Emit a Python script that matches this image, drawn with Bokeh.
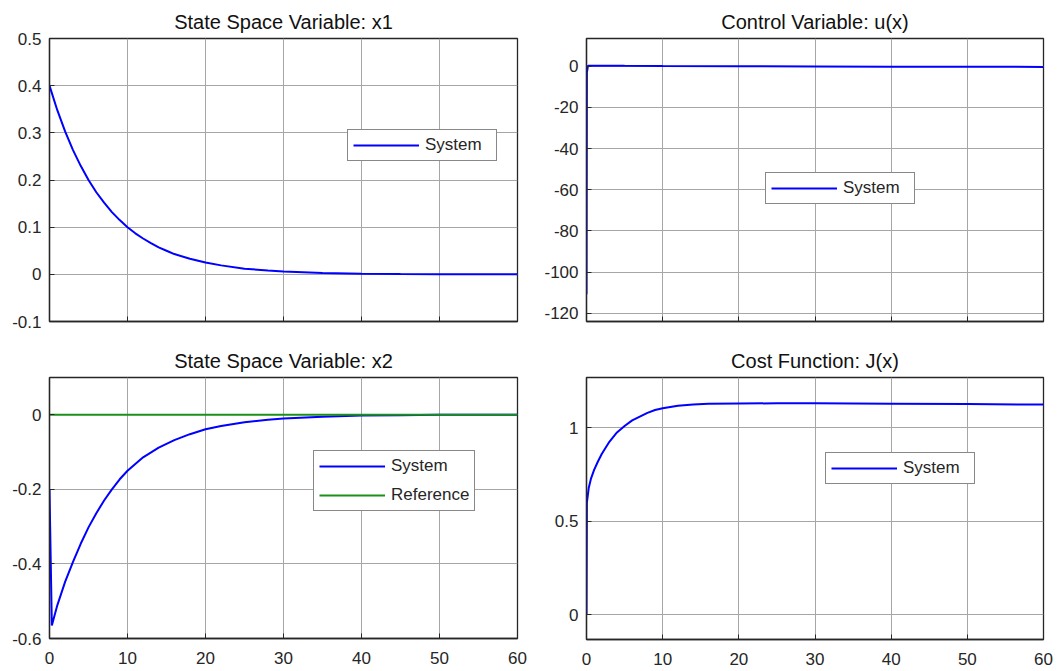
from bokeh.plotting import figure
from bokeh.models import Range1d, Legend, LegendItem, FixedTicker, CustomJSTickFormatter
from bokeh.layouts import column, row
from bokeh.embed import file_html
from bokeh.resources import INLINE

# ---- data -------------------------------------------------------------
x_ticks = [0, 10, 20, 30, 40, 50, 60]

t_x1 = [0, 1, 2, 3, 4, 5, 6, 7, 8, 9, 10, 11, 12, 13, 14, 15, 16, 18, 20,
        22, 25, 28, 30, 35, 40, 45, 50, 55, 60]
x1 = [0.400, 0.348, 0.303, 0.264, 0.230, 0.200, 0.174, 0.152, 0.132, 0.115,
      0.100, 0.087, 0.076, 0.066, 0.057, 0.050, 0.043, 0.033, 0.025, 0.019,
      0.012, 0.008, 0.006, 0.003, 0.001, 0.0005, 0.0002, 0.0001, 0.0]
x1_ticks = [-0.1, 0, 0.1, 0.2, 0.3, 0.4, 0.5]

t_u = [0, 0.05, 0.2, 1, 5, 10, 20, 30, 40, 50, 60]
u = [-110.7, -3.0, 0.3, 0.3, 0.2, 0.1, 0.0, -0.1, -0.2, -0.2, -0.3]
u_ticks = [-120, -100, -80, -60, -40, -20, 0]

t_x2 = [0, 0.3, 1, 2, 3, 4, 5, 6, 7, 8, 9, 10, 12, 14, 16, 18, 20, 22, 25,
        28, 30, 35, 40, 45, 50, 60]
x2 = [-0.200, -0.565, -0.511, -0.448, -0.395, -0.346, -0.302, -0.264, -0.230,
      -0.200, -0.173, -0.150, -0.114, -0.088, -0.068, -0.052, -0.039, -0.030,
      -0.020, -0.013, -0.010, -0.005, -0.002, -0.001, 0.0, 0.0]
t_ref = [0, 60]
x2_ref = [0.0, 0.0]
x2_ticks = [-0.6, -0.4, -0.2, 0]

t_J = [0, 0.05, 0.3, 0.6, 1, 1.5, 2, 3, 4, 5, 6, 7, 8, 9, 10, 12, 14, 16, 20,
       25, 30, 40, 50, 60]
J = [0.0, 0.60, 0.68, 0.73, 0.775, 0.82, 0.86, 0.925, 0.975, 1.01, 1.04,
     1.06, 1.08, 1.095, 1.105, 1.118, 1.125, 1.128, 1.130, 1.131, 1.131,
     1.129, 1.127, 1.124]
J_ticks = [0, 0.5, 1]

# ---- styling ----------------------------------------------------------
FONT = "Liberation Sans"
INK = "#262626"
BLUE = "#0000ff"
GREEN = "#1a8f1a"

num_fmt = CustomJSTickFormatter(code="return String(Math.round(tick*1000)/1000);")
blank_fmt = CustomJSTickFormatter(code="return '';")


def panel(title, y_lo, y_hi, y_ticks, fw, fh, borders, show_x_labels):
    left, right, top, bottom = borders
    p = figure(frame_width=fw, frame_height=fh,
               min_border_left=left, min_border_right=right,
               min_border_top=top, min_border_bottom=bottom,
               x_range=Range1d(0, 60), y_range=Range1d(y_lo, y_hi),
               output_backend="svg", toolbar_location=None)
    p.title.text = title
    p.title.align = "center"
    p.title.text_font = FONT
    p.title.text_font_size = "20px"
    p.title.text_font_style = "normal"
    p.title.text_color = "#111111"
    p.title.standoff = 11

    p.outline_line_color = INK
    p.outline_line_width = 1.3
    p.outline_line_alpha = 1

    for ax in (p.xaxis[0], p.yaxis[0]):
        ax.axis_line_color = INK
        ax.axis_line_width = 1.3
        ax.major_tick_line_color = INK
        ax.major_tick_in = 5
        ax.major_tick_out = 0
        ax.minor_tick_line_color = None
        ax.major_label_text_font = FONT
        ax.major_label_text_font_size = "17px"
        ax.major_label_text_color = INK
    p.yaxis.major_label_standoff = 8
    p.xaxis.major_label_standoff = 13

    p.xaxis.ticker = FixedTicker(ticks=x_ticks)
    p.yaxis.ticker = FixedTicker(ticks=y_ticks)
    p.xaxis.formatter = num_fmt if show_x_labels else blank_fmt
    p.yaxis.formatter = num_fmt

    p.grid.grid_line_color = "#a6a6a6"
    p.grid.grid_line_width = 1
    p.grid.grid_line_alpha = 1
    return p


def add_legend(p, items, loc, label_width, spacing=9):
    leg = Legend(items=items, location=loc, margin=0, padding=5,
                 spacing=spacing, glyph_width=66, glyph_height=16,
                 label_height=16, label_width=label_width, label_standoff=6,
                 label_text_font=FONT, label_text_font_size="17px",
                 label_text_color=INK, border_line_color="#111111",
                 border_line_width=1.2, background_fill_color="white",
                 background_fill_alpha=1)
    p.add_layout(leg)


# top-left: x1
p1 = panel("State Space Variable: x1", -0.1, 0.5, x1_ticks, 468, 283,
           (49, 13, 38, 19), False)
r1 = p1.line(t_x1, x1, line_color=BLUE, line_width=2)
add_legend(p1, [LegendItem(label="System", renderers=[r1])], (298, 160), 66)

# top-right: control u
p2 = panel("Control Variable: u(x)", -124, 13.5, u_ticks, 457, 283,
           (56, 17, 38, 19), False)
r2 = p2.line(t_u, u, line_color=BLUE, line_width=2)
add_legend(p2, [LegendItem(label="System", renderers=[r2])], (179, 117), 66)

# bottom-left: x2 with reference
p3 = panel("State Space Variable: x2", -0.6, 0.1, x2_ticks, 468, 261,
           (49, 13, 37, 33), True)
r3 = p3.line(t_x2, x2, line_color=BLUE, line_width=2)
r3b = p3.line(t_ref, x2_ref, line_color=GREEN, line_width=2)
add_legend(p3, [LegendItem(label="System", renderers=[r3]),
                LegendItem(label="Reference", renderers=[r3b])], (264, 127),
           66, spacing=9)

# bottom-right: cost J
p4 = panel("Cost Function: J(x)", -0.132, 1.269, J_ticks, 457, 262,
           (56, 17, 37, 32), True)
r4 = p4.line(t_J, J, line_color=BLUE, line_width=2)
add_legend(p4, [LegendItem(label="System", renderers=[r4])], (239, 155), 66)

layout = column(row(p1, p2), row(p3, p4))

open("out.html", "w").write(file_html(layout, INLINE))
